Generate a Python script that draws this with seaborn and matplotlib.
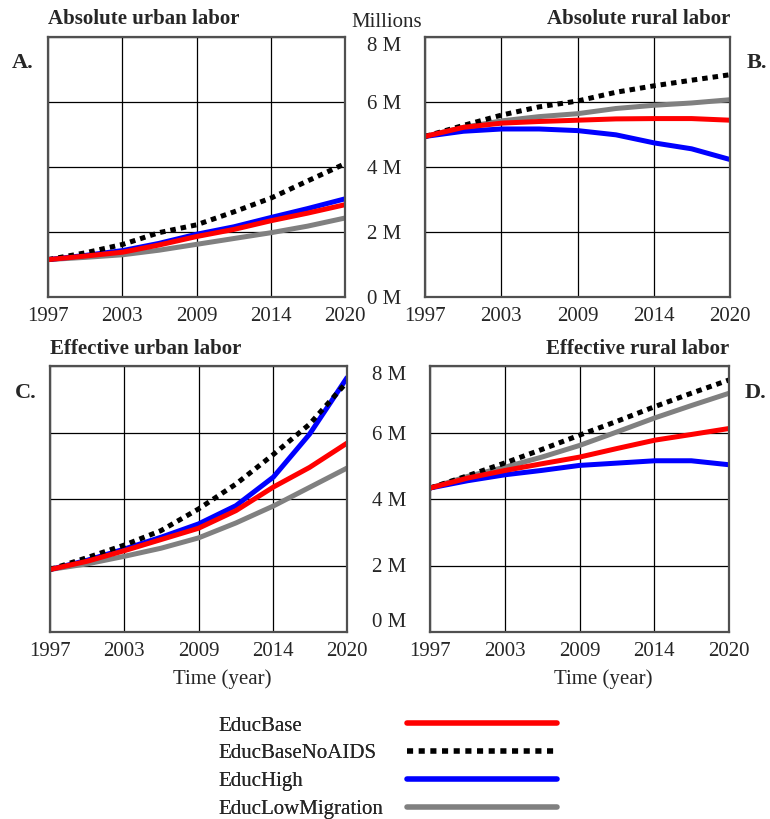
import numpy as np
import pandas as pd
import matplotlib
matplotlib.use('Agg')
import matplotlib.pyplot as plt
from matplotlib.lines import Line2D
import seaborn as sns

# %%
years = [1997, 1999.9, 2002.8, 2005.6, 2008.5, 2011.4, 2014.3, 2017.1, 2020]
scenarios = ['EducBase', 'EducBaseNoAIDS', 'EducHigh', 'EducLowMigration']

# millions of workers
urban_abs_base   = [1.15, 1.26, 1.38, 1.60, 1.86, 2.08, 2.35, 2.58, 2.84]
urban_abs_noaids = [1.15, 1.36, 1.62, 1.98, 2.22, 2.62, 3.05, 3.57, 4.10]
urban_abs_high   = [1.15, 1.28, 1.43, 1.65, 1.93, 2.16, 2.45, 2.72, 3.02]
urban_abs_lowmig = [1.15, 1.22, 1.30, 1.44, 1.62, 1.80, 1.98, 2.18, 2.43]

rural_abs_base   = [4.94, 5.22, 5.35, 5.40, 5.44, 5.48, 5.49, 5.49, 5.44]
rural_abs_noaids = [4.94, 5.28, 5.60, 5.85, 6.03, 6.30, 6.50, 6.67, 6.84]
rural_abs_high   = [4.94, 5.10, 5.17, 5.17, 5.12, 4.99, 4.74, 4.56, 4.23]
rural_abs_lowmig = [4.94, 5.22, 5.42, 5.55, 5.64, 5.80, 5.90, 5.97, 6.07]

urban_eff_base   = [1.88, 2.13, 2.45, 2.78, 3.12, 3.65, 4.36, 4.95, 5.68]
urban_eff_noaids = [1.88, 2.24, 2.62, 3.05, 3.70, 4.45, 5.34, 6.25, 7.52]
urban_eff_high   = [1.88, 2.16, 2.50, 2.85, 3.25, 3.80, 4.66, 5.95, 7.65]
urban_eff_lowmig = [1.88, 2.05, 2.28, 2.52, 2.83, 3.28, 3.79, 4.35, 4.93]

rural_eff_base   = [4.33, 4.63, 4.86, 5.06, 5.26, 5.52, 5.77, 5.94, 6.12]
rural_eff_noaids = [4.33, 4.70, 5.09, 5.49, 5.92, 6.34, 6.78, 7.18, 7.58]
rural_eff_high   = [4.33, 4.55, 4.73, 4.86, 5.01, 5.08, 5.15, 5.15, 5.03]
rural_eff_lowmig = [4.33, 4.68, 4.96, 5.26, 5.61, 6.02, 6.44, 6.81, 7.18]

xtick_pos = [1997, 2002.75, 2008.5, 2014.25, 2020]
xtick_labels = ['1997', '2003', '2009', '2014', '2020']
ytick_pos = [0, 2, 4, 6, 8]
ytick_labels = ['0 M', '2 M', '4 M', '6 M', '8 M']

# %%
sns.set_style('white')
plt.rcParams['font.family'] = ['Liberation Serif', 'DejaVu Serif']

colors = {'EducBase': '#ff0000', 'EducBaseNoAIDS': '#000000',
          'EducHigh': '#0000ff', 'EducLowMigration': '#808080'}
dashes = {'EducBase': '', 'EducBaseNoAIDS': (1.1, 1.0),
          'EducHigh': '', 'EducLowMigration': ''}
draw_order = ['EducLowMigration', 'EducHigh', 'EducBaseNoAIDS', 'EducBase']


def make_df(base, noaids, high, lowmig):
    frames = []
    for name, vals in zip(scenarios, [base, noaids, high, lowmig]):
        frames.append(pd.DataFrame({'year': years, 'value': vals, 'scenario': name}))
    return pd.concat(frames, ignore_index=True)


panels = [
    ('Absolute urban labor', make_df(urban_abs_base, urban_abs_noaids, urban_abs_high, urban_abs_lowmig)),
    ('Absolute rural labor', make_df(rural_abs_base, rural_abs_noaids, rural_abs_high, rural_abs_lowmig)),
    ('Effective urban labor', make_df(urban_eff_base, urban_eff_noaids, urban_eff_high, urban_eff_lowmig)),
    ('Effective rural labor', make_df(rural_eff_base, rural_eff_noaids, rural_eff_high, rural_eff_lowmig)),
]

W, H = 770, 819
fig = plt.figure(figsize=(W / 100, H / 100), dpi=100)
# pixel boxes: left, top, right, bottom
boxes = [(48, 37, 345, 297), (425, 37, 730, 297), (50, 366, 347, 632), (430, 366, 729, 632)]
# end labels kept inside the box, as in the original
label_va = {1: {8: 'top'}, 3: {8: 'top', 0: 'bottom'}}
fs = 15

for i, ((title, df), (l, t, r, b)) in enumerate(zip(panels, boxes)):
    ax = fig.add_axes([l / W, 1 - b / H, (r - l) / W, (b - t) / H])
    sns.lineplot(data=df, x='year', y='value', hue='scenario', style='scenario',
                 hue_order=draw_order, style_order=draw_order, palette=colors,
                 dashes=dashes, lw=3.6, legend=False, ax=ax)
    ax.set_xlim(1997, 2020)
    ax.set_ylim(0, 8)
    ax.set_xticks(xtick_pos)
    ax.set_xticklabels(xtick_labels, fontsize=fs)
    ax.set_yticks(ytick_pos)
    right_col = i % 2 == 1
    ax.tick_params(axis='y', length=0, pad=17, labelleft=right_col)
    ax.tick_params(axis='x', length=0, pad=7)
    if right_col:
        ax.set_yticklabels(ytick_labels, fontsize=fs)
        for pos, lab in zip(ytick_pos, ax.get_yticklabels()):
            if pos in label_va[i]:
                lab.set_va(label_va[i][pos])
    ax.grid(True, color='black', lw=0.9)
    ax.set_axisbelow(True)
    for sp in ax.spines.values():
        sp.set_color('#505050')
        sp.set_linewidth(1.6)
    ax.set_xlabel('')
    ax.set_ylabel('')
    ax.set_title(title, loc='right' if right_col else 'left', fontsize=fs,
                 fontweight='bold', pad=9)

# panel letters and shared labels
for letter, x, y in [('A.', 12, 68), ('B.', 747, 68), ('C.', 15, 398), ('D.', 745, 398)]:
    fig.text(x / W, 1 - y / H, letter, fontsize=16, fontweight='bold', va='baseline')
fig.text(387 / W, 1 - 27 / H, 'Millions', fontsize=fs, ha='center', va='baseline')
fig.text(222 / W, 1 - 684 / H, 'Time (year)', fontsize=fs, ha='center', va='baseline')
fig.text(603 / W, 1 - 684 / H, 'Time (year)', fontsize=fs, ha='center', va='baseline')

# legend: names on the left, line samples on the right
handles = [Line2D([], [], color=colors[s], lw=4, dashes=dashes[s] if dashes[s] else (None, None))
           for s in scenarios]
ghost = [Line2D([], [], alpha=0) for s in scenarios]
leg1 = fig.legend(ghost, scenarios, loc='upper left', bbox_to_anchor=(218 / W, 1 - 716 / H),
                  frameon=False, fontsize=fs, handlelength=0, handletextpad=0,
                  borderpad=0, borderaxespad=0, labelspacing=0.4)
leg2 = fig.legend(handles, ['' for s in scenarios], loc='upper left',
                  bbox_to_anchor=(407 / W, 1 - 716 / H), frameon=False, fontsize=fs,
                  handlelength=150 / (fs * 100 / 72), handletextpad=0,
                  borderpad=0, borderaxespad=0, labelspacing=0.4)
fig.add_artist(leg1)

fig.savefig('out.png', dpi=100)
